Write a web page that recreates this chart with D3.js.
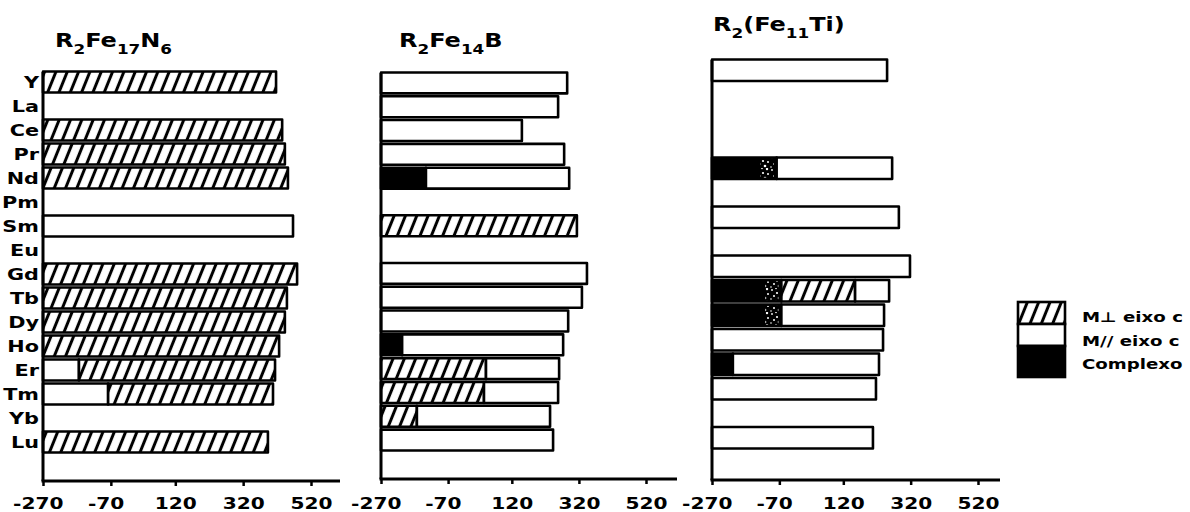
<!DOCTYPE html>
<html>
<head>
<meta charset="utf-8">
<script src="https://cdn.jsdelivr.net/npm/d3@7"></script>
<style>
  html, body { margin: 0; padding: 0; background: #fff; }
  svg { display: block; }
  text { font-family: "DejaVu Sans", sans-serif; font-weight: bold; fill: #000; }
</style>
</head>
<body>
<script>
// Rare-earth elements, top to bottom
const categories = ["Y","La","Ce","Pr","Nd","Pm","Sm","Eu","Gd","Tb","Dy","Ho","Er","Tm","Yb","Lu"];
const tickValues = [-270, -70, 120, 320, 520];

// Each row: consecutive segments [phase, end temperature], starting from -270
// phase: "perp" = M ⊥ eixo c, "par" = M // eixo c, "cplx" = complexo
const fe17n6 = [
  [["perp", 417]], [], [["perp", 435]], [["perp", 443]], [["perp", 452]], [],
  [["par", 467]], [], [["perp", 479]], [["perp", 449]], [["perp", 443]],
  [["perp", 426]], [["par", -164], ["perp", 414]], [["par", -78], ["perp", 408]],
  [], [["perp", 393]]
];
const fe14b = [
  [["par", 285]], [["par", 258]], [["par", 150]], [["par", 276]],
  [["cplx", -136], ["par", 291]], [], [["perp", 314]], [],
  [["par", 344]], [["par", 329]], [["par", 288]], [["cplx", -207], ["par", 273]],
  [["perp", 43], ["par", 261]], [["perp", 37], ["par", 258]],
  [["perp", -163], ["par", 234]], [["par", 243]]
];
const fe11ti = [
  [["par", 250]], [], [], [], [["cplx", -78], ["par", 265]], [],
  [["par", 285]], [], [["par", 318]], [["cplx", -64], ["perp", 155], ["par", 256]],
  [["cplx", -64], ["par", 241]], [["par", 238]], [["cplx", -208], ["par", 226]],
  [["par", 217]], [], [["par", 208]]
];

const legendLabels = ["M\u22A5 eixo c", "M// eixo c", "Complexo"];
const legendPhases = ["perp", "par", "cplx"];

const W = 1190, H = 512;
const STRETCH = 1.3;

const svg = d3.select("body").append("svg").attr("width", W).attr("height", H);

const defs = svg.append("defs");
const hatch = defs.append("pattern")
  .attr("id", "hatch")
  .attr("patternUnits", "userSpaceOnUse")
  .attr("width", 10.5).attr("height", 10.5)
  .attr("patternTransform", "rotate(22)");
hatch.append("rect").attr("width", 10.5).attr("height", 10.5).attr("fill", "#fff");
hatch.append("line")
  .attr("x1", 5.25).attr("y1", -1).attr("x2", 5.25).attr("y2", 11.5)
  .attr("stroke", "#000").attr("stroke-width", 3);

// Stippled edge where the complex phase fades out
const speckle = defs.append("pattern")
  .attr("id", "speckle")
  .attr("patternUnits", "userSpaceOnUse")
  .attr("width", 14).attr("height", 12);
[[2, 2, 0.9], [7, 5, 1.1], [11, 1, 1.2], [4, 8, 1], [9, 10, 1.3], [12, 6, 1], [1, 11, 0.8], [6, 0.5, 0.8]]
  .forEach(([cx, cy, r]) => speckle.append("circle").attr("cx", cx).attr("cy", cy).attr("r", r).attr("fill", "#fff"));

const fillFor = p => p === "perp" ? "url(#hatch)" : (p === "cplx" ? "#000" : "#fff");

// Panel geometry
const panels = [
  { data: fe17n6, title: [["R", 0], ["2", 1], ["Fe", 0], ["17", 1], ["N", 0], ["6", 1]],
    xr: [43, 311], axisEnd: 340, yr: [70, 454], axisY: 481, titleX: 55, titleY: 47, labels: true, stipple: false },
  { data: fe14b, title: [["R", 0], ["2", 1], ["Fe", 0], ["14", 1], ["B", 0]],
    xr: [381, 646], axisEnd: 677, yr: [71, 452], axisY: 479, titleX: 399, titleY: 47, labels: false, stipple: false },
  { data: fe11ti, title: [["R", 0], ["2", 1], ["(Fe", 0], ["11", 1], ["Ti)", 0]],
    xr: [712, 978], axisEnd: 1000, yr: [58, 450], axisY: 480, titleX: 713, titleY: 31, labels: false, stipple: true }
];

panels.forEach(p => {
  const x = d3.scaleLinear().domain([tickValues[0], tickValues[tickValues.length - 1]]).range(p.xr);
  const y = d3.scaleBand().domain(categories).range(p.yr).paddingInner(0.12).paddingOuter(0.06);
  const g = svg.append("g");

  // Bars
  categories.forEach((c, i) => {
    let start = tickValues[0];
    p.data[i].forEach(([phase, end]) => {
      g.append("rect")
        .attr("x", x(start)).attr("y", y(c))
        .attr("width", x(end) - x(start)).attr("height", y.bandwidth())
        .attr("fill", fillFor(phase))
        .attr("stroke", "#000").attr("stroke-width", 2.6)
        .attr("stroke-linejoin", "round");
      if (p.stipple && phase === "cplx" && end > -100) {
        g.append("rect")
          .attr("x", x(end) - 16).attr("y", y(c) + 1.5)
          .attr("width", 13).attr("height", y.bandwidth() - 3)
          .attr("fill", "url(#speckle)");
      }
      start = end;
    });
  });

  // Axes
  g.append("line")
    .attr("x1", p.xr[0]).attr("x2", p.xr[0])
    .attr("y1", y.range()[0] + 2).attr("y2", p.axisY)
    .attr("stroke", "#000").attr("stroke-width", 3);
  g.append("line")
    .attr("x1", p.xr[0] - 1.5).attr("x2", p.axisEnd)
    .attr("y1", p.axisY).attr("y2", p.axisY)
    .attr("stroke", "#000").attr("stroke-width", 3);

  const ax = g.append("g")
    .attr("transform", `translate(0,${p.axisY})`)
    .call(d3.axisBottom(x).tickValues(tickValues).tickSize(5).tickPadding(3).tickFormat(d => d));
  ax.select(".domain").remove();
  ax.selectAll(".tick line").attr("stroke", "#000").attr("stroke-width", 2.5);
  ax.selectAll(".tick text")
    .attr("y", 509 - p.axisY).attr("dy", 0)
    .attr("dx", d => d < 0 ? -4 : 0)
    .attr("transform", `scale(${STRETCH},1)`)
    .style("font-size", "15.5px")
    .style("font-family", "DejaVu Sans, sans-serif")
    .style("font-weight", "bold");

  // Row labels
  if (p.labels) {
    categories.forEach(c => {
      g.append("g")
        .attr("transform", `translate(39,${y(c) + y.bandwidth() / 2}) scale(${STRETCH},1)`)
        .append("text")
        .attr("text-anchor", "end").attr("dy", "0.36em")
        .style("font-size", "16px")
        .text(c);
    });
  }

  // Title with subscripts
  const t = g.append("g")
    .attr("transform", `translate(${p.titleX},${p.titleY}) scale(1.2,1)`)
    .append("text").style("font-size", "20px");
  let prevSub = 0;
  p.title.forEach(([s, sub]) => {
    t.append("tspan")
      .attr("dy", sub === prevSub ? 0 : (sub ? 7 : -7))
      .style("font-size", sub ? "14px" : "20px")
      .text(s);
    prevSub = sub;
  });
});

// Legend
const leg = svg.append("g");
const legBoxes = [[302, 324], [324, 346], [346, 377]];
legendPhases.forEach((ph, i) => {
  leg.append("rect")
    .attr("x", 1018).attr("y", legBoxes[i][0])
    .attr("width", 47).attr("height", legBoxes[i][1] - legBoxes[i][0])
    .attr("fill", fillFor(ph))
    .attr("stroke", "#000").attr("stroke-width", 2.6);
  leg.append("g")
    .attr("transform", `translate(1082,${[322, 346, 369][i]}) scale(${STRETCH},1)`)
    .append("text").style("font-size", "14px").text(legendLabels[i]);
});
</script>
</body>
</html>
